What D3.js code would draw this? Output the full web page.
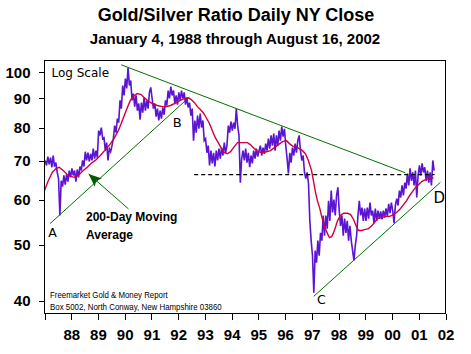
<!DOCTYPE html>
<html><head><meta charset="utf-8">
<script src="https://cdn.jsdelivr.net/npm/d3@7"></script>
<style>
html,body{margin:0;padding:0;background:#fff;}
svg{display:block;}
</style></head>
<body>
<svg id="chart" width="471" height="354"></svg>
<script>
// Gold/Silver ratio, 20 readings per calendar year
const ratio1988 = [70.2, 68.8, 71.3, 69.1, 71.0, 68.3, 71.6, 68.5, 69.6, 66.9, 65.3, 56.3, 64.7, 63.2, 66.1, 63.7, 66.4, 64.5, 67.4, 65.6];
const ratio1989 = [68.0, 66.1, 67.4, 64.5, 67.7, 65.6, 68.5, 67.4, 70.2, 68.5, 72.7, 70.2, 72.4, 69.9, 72.1, 70.2, 73.6, 70.7, 73.0, 71.0];
const ratio1990 = [79.1, 77.6, 80.1, 76.6, 76.9, 73.0, 75.4, 70.2, 73.6, 72.7, 74.5, 76.6, 80.7, 78.5, 83.0, 81.7, 89.3, 86.4, 94.8, 91.1];
const ratio1991 = [97.5, 93.7, 101.9, 94.8, 96.7, 89.3, 91.8, 87.1, 91.1, 85.7, 88.2, 82.7, 88.5, 85.0, 90.3, 85.7, 89.3, 86.4, 92.2, 94.1];
const ratio1992 = [90.0, 86.4, 88.2, 83.7, 86.4, 82.4, 85.7, 83.0, 86.8, 84.3, 89.3, 87.5, 92.9, 90.0, 94.4, 91.1, 92.9, 88.2, 91.1, 87.8];
const ratio1993 = [92.2, 89.3, 92.9, 90.0, 92.2, 87.8, 90.3, 86.8, 88.5, 84.0, 86.4, 76.0, 82.4, 78.5, 84.0, 79.7, 84.7, 80.1, 82.4, 76.0];
const ratio1994 = [76.6, 72.4, 74.5, 68.8, 73.0, 69.4, 72.4, 68.5, 73.0, 70.2, 73.6, 70.7, 73.9, 71.6, 75.4, 72.4, 74.5, 80.7, 78.5, 82.0];
const ratio1995 = [79.1, 81.7, 79.7, 86.4, 80.7, 77.6, 64.2, 70.7, 73.0, 70.2, 73.6, 69.6, 72.4, 68.3, 71.6, 69.4, 73.0, 70.7, 73.6, 71.3];
const ratio1996 = [73.0, 74.5, 71.6, 73.9, 72.1, 75.1, 73.0, 76.6, 73.6, 77.6, 74.5, 78.2, 73.0, 77.6, 74.5, 79.1, 76.0, 80.4, 77.2, 79.7];
const ratio1997 = [74.5, 70.7, 66.6, 72.4, 69.6, 73.9, 71.6, 75.1, 72.4, 76.0, 77.6, 73.0, 70.2, 71.6, 66.9, 65.3, 66.9, 64.0, 55.1, 50.9];
const ratio1998 = [47.9, 41.3, 48.9, 46.6, 50.9, 47.9, 52.5, 50.9, 56.3, 51.9, 56.3, 53.4, 59.7, 55.1, 62.2, 57.0, 60.0, 56.3, 61.0, 63.0];
const ratio1999 = [57.4, 54.0, 56.3, 51.9, 55.6, 52.5, 55.1, 50.9, 54.0, 50.9, 48.9, 47.0, 49.9, 51.9, 56.3, 59.7, 56.3, 58.1, 55.1, 57.9];
const ratio2000 = [55.1, 58.1, 55.6, 59.3, 56.3, 57.4, 54.6, 57.9, 55.1, 57.4, 55.6, 57.2, 55.4, 57.4, 55.8, 57.9, 56.1, 59.0, 56.8, 59.3];
const ratio2001 = [57.4, 54.6, 58.6, 60.2, 58.6, 62.2, 60.5, 63.5, 61.0, 64.2, 62.7, 66.6, 63.5, 68.0, 64.7, 66.9, 63.5, 67.4, 60.5, 66.1];
const ratio2002 = [68.8, 66.1, 69.4, 66.9, 68.3, 64.7, 67.4, 64.2, 66.9, 63.5, 70.2, 67.4];

// 200-day moving average (decimal year, value)
const maDates = [1988.00,1988.14,1988.29,1988.44,1988.55,1988.70,1988.89,1989.11,1989.26,1989.45,1989.60,1989.75,1989.90,
  1990.09,1990.28,1990.47,1990.62,1990.76,1990.87,1990.98,1991.10,1991.21,1991.32,1991.47,1991.62,1991.73,1991.85,
  1992.03,1992.22,1992.41,1992.56,1992.71,1992.94,1993.08,1993.24,1993.38,1993.49,1993.61,1993.72,1993.83,1993.94,
  1994.05,1994.17,1994.28,1994.39,1994.50,1994.62,1994.73,1994.84,1994.96,1995.07,1995.22,1995.41,1995.59,1995.70,1995.85,
  1996.00,1996.15,1996.30,1996.45,1996.60,1996.75,1996.90,1997.05,1997.16,1997.31,1997.46,1997.61,1997.76,1997.87,1997.99,
  1998.06,1998.14,1998.21,1998.29,1998.36,1998.44,1998.51,1998.59,1998.66,1998.74,1998.81,1998.89,1998.96,
  1999.07,1999.19,1999.34,1999.45,1999.56,1999.67,1999.75,1999.86,1999.97,2000.12,2000.24,2000.35,2000.46,2000.61,2000.76,2000.91,
  2001.06,2001.21,2001.32,2001.43,2001.54,2001.66,2001.77,2001.88,2001.99,2002.11,2002.25,2002.37,2002.48,2002.55];
const maValues = [62.2,64.7,66.9,68.0,68.3,67.4,66.1,65.6,66.1,67.4,68.3,69.4,70.2,
  71.6,73.3,75.1,76.9,79.1,81.4,84.0,86.8,89.3,90.7,91.8,91.4,90.3,89.3,
  88.2,87.5,87.1,87.1,87.5,88.5,89.3,90.0,90.3,89.6,88.5,87.1,86.1,85.0,
  83.3,81.4,79.1,76.9,75.4,73.6,72.4,72.1,72.7,73.9,75.4,75.4,75.4,74.8,73.6,
  72.7,72.4,72.7,73.0,73.9,74.8,75.7,76.0,75.1,74.2,73.9,73.3,72.1,70.2,67.4,
  64.7,61.7,59.7,58.1,56.3,54.6,53.4,52.3,51.5,51.7,52.5,53.8,55.1,
  56.3,56.8,56.8,56.5,55.4,53.8,53.0,53.0,53.2,53.4,54.0,54.8,55.6,55.8,56.1,56.1,
  56.5,57.2,57.9,58.8,59.7,61.0,62.0,63.0,63.7,64.5,65.0,65.3,65.6,65.3];

// annotation lines (decimal year, ratio)
const trendUpper = [[1990.87, 103.0], [2001.50, 66.8]];
const trendAB = [[1988.21, 54.5], [1993.42, 90.5]];
const trendCD = [[1998.07, 40.7], [2002.81, 64.3]];
const arrowLine = [[1991.14, 57.8], [1989.65, 66.5]];
const supportLevel = [[1993.60, 66.3], [2002.59, 66.3]];

const yTickValues = [40, 50, 60, 70, 80, 90, 100];
const xTickYears = [1988,1989,1990,1991,1992,1993,1994,1995,1996,1997,1998,1999,2000,2001,2002,2003];
const xTickLabels = ["", "88","89","90","91","92","93","94","95","96","97","98","99","00","01","02"];

const yearly = [ratio1988, ratio1989, ratio1990, ratio1991, ratio1992, ratio1993, ratio1994, ratio1995,
  ratio1996, ratio1997, ratio1998, ratio1999, ratio2000, ratio2001, ratio2002];
const series = yearly.flatMap((arr, k) => arr.map((v, i) => ({t: 1988 + k + (i + 0.5) / 20, v})));
const maSeries = maDates.map((t, i) => ({t, v: maValues[i]}));

const svg = d3.select("#chart");
const L = 44.5, R = 445.5, T = 60.5, B = 313.5;
const x = d3.scaleLinear().domain([1988, 2003]).range([L, R]);
const y = d3.scaleLog().domain([38, 104.8]).range([B, T]);

svg.append("rect").attr("width", 471).attr("height", 354).attr("fill", "#fff");

// title
svg.append("text").attr("x", 236).attr("y", 20.5).attr("text-anchor", "middle")
  .style("font", "bold 18px 'Liberation Sans', Arial, sans-serif").text("Gold/Silver Ratio Daily NY Close");
svg.append("text").attr("x", 235).attr("y", 44.3).attr("text-anchor", "middle")
  .style("font", "bold 15px 'Liberation Sans', Arial, sans-serif").text("January 4, 1988 through August 16, 2002");

// axes
const xAxis = d3.axisBottom(x).tickValues(xTickYears)
  .tickFormat(d => xTickLabels[xTickYears.indexOf(d)]).tickSize(6).tickSizeOuter(0).tickPadding(10);
const gx = svg.append("g").attr("transform", `translate(0,${B})`).call(xAxis);
const yAxis = d3.axisLeft(y).tickValues(yTickValues).tickFormat(d3.format("d")).tickSize(6).tickSizeOuter(0).tickPadding(8);
const gy = svg.append("g").attr("transform", `translate(${L},0)`).call(yAxis);
[gx, gy].forEach(g => {
  g.select(".domain").remove();
  g.selectAll(".tick line").attr("stroke", "#000").attr("shape-rendering", "crispEdges");
  g.selectAll(".tick text").attr("fill", "#000")
    .style("font", "bold 15px 'Liberation Sans', Arial, sans-serif");
});

const line = d3.line().x(d => x(d.t)).y(d => y(d.v));
const pline = d3.line().x(d => x(d[0])).y(d => y(d[1]));

svg.append("path").datum(series).attr("d", line).attr("fill", "none")
  .attr("stroke", "#5a14d2").attr("stroke-width", 1.6).attr("stroke-linejoin", "miter");
svg.append("path").datum(maSeries).attr("d", line).attr("fill", "none")
  .attr("stroke", "#d0003c").attr("stroke-width", 1.4);

// trend lines
[trendUpper, trendAB, trendCD].forEach(seg => {
  svg.append("path").datum(seg).attr("d", pline).attr("fill", "none")
    .attr("stroke", "#007000").attr("stroke-width", 1);
});
svg.append("defs").append("marker").attr("id", "ah").attr("markerUnits", "userSpaceOnUse")
  .attr("markerWidth", 16).attr("markerHeight", 14).attr("refX", 0).attr("refY", 0)
  .attr("viewBox", "-14 -7 16 14").attr("orient", "auto")
  .append("path").attr("d", "M0,0 L-13,-5.5 L-10,0 L-13,5.5 Z").attr("fill", "#005a00");
svg.append("path").datum(arrowLine).attr("d", pline).attr("fill", "none")
  .attr("stroke", "#007000").attr("stroke-width", 1).attr("marker-end", "url(#ah)");

svg.append("path").datum(supportLevel).attr("d", pline).attr("fill", "none")
  .attr("stroke", "#000").attr("stroke-width", 1.2).attr("stroke-dasharray", "4,3");

// plot frame
svg.append("rect").attr("x", L).attr("y", T).attr("width", R - L).attr("height", B - T)
  .attr("fill", "none").attr("stroke", "#000").attr("stroke-width", 1).attr("shape-rendering", "crispEdges");

// annotations
const ann = (tx, ty, txt, font) => svg.append("text").attr("x", tx).attr("y", ty).style("font", font).attr("fill", "#000").text(txt);
ann(51.5, 76.7, "Log Scale", "12px 'DejaVu Sans', Verdana, sans-serif");
ann(48.3, 237.3, "A", "12.5px 'DejaVu Sans', Verdana, sans-serif");
ann(172.7, 127, "B", "13px 'DejaVu Sans', Verdana, sans-serif");
ann(317, 304.3, "C", "12.5px 'DejaVu Sans', Verdana, sans-serif");
ann(433.5, 203, "D", "15px 'DejaVu Sans', Verdana, sans-serif");
ann(86, 220.7, "200-Day Moving", "bold 12px 'Liberation Sans', Arial, sans-serif");
ann(86, 239.3, "Average", "bold 12px 'Liberation Sans', Arial, sans-serif");
ann(50, 298.3, "Freemarket Gold & Money Report", "9.5px 'Liberation Sans', Arial, sans-serif")
  .attr("textLength", 117.7).attr("lengthAdjust", "spacingAndGlyphs");
ann(50, 310.2, "Box 5002, North Conway, New Hampshire 03860", "9.5px 'Liberation Sans', Arial, sans-serif")
  .attr("textLength", 171.7).attr("lengthAdjust", "spacingAndGlyphs");
</script>
</body></html>
